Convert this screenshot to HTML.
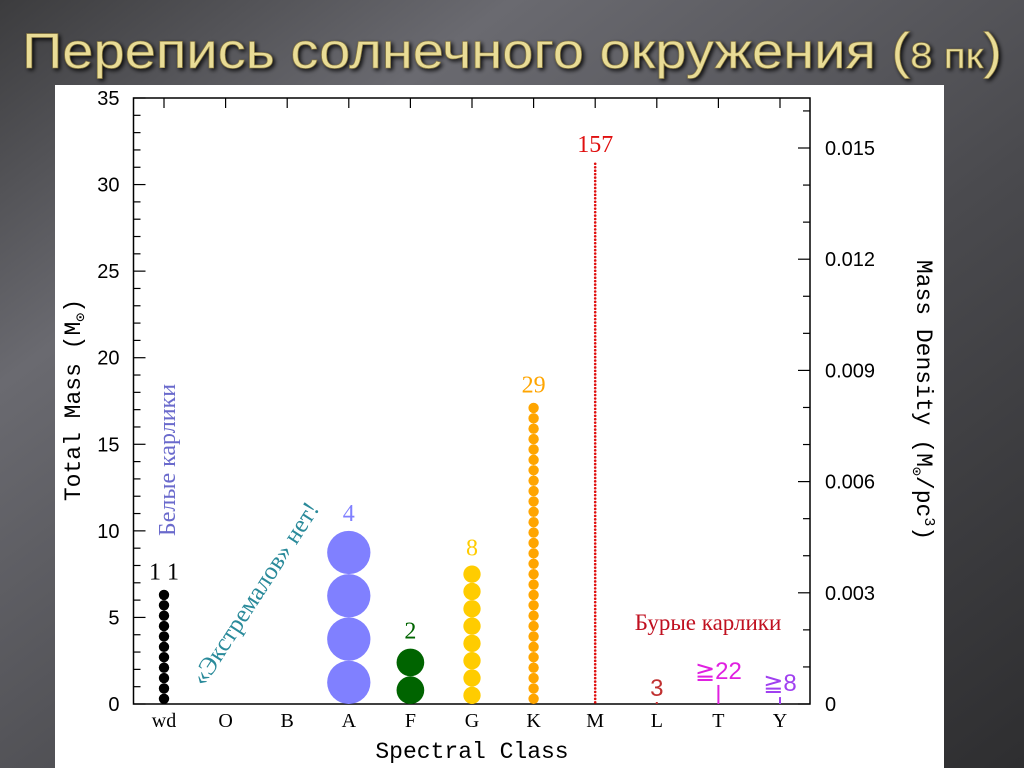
<!DOCTYPE html>
<html><head><meta charset="utf-8"><style>
html,body{margin:0;padding:0;width:1024px;height:768px;overflow:hidden;background:#444}
svg{display:block}
</style></head><body>
<svg id="chart" width="1024" height="768" viewBox="0 0 1024 768" xmlns="http://www.w3.org/2000/svg">
<defs>
<linearGradient id="bg" x1="0" y1="0" x2="1" y2="1">
<stop offset="0" stop-color="#3c3c3e"/><stop offset="0.25" stop-color="#6a6a70"/><stop offset="0.6" stop-color="#4a4a4e"/><stop offset="1" stop-color="#2e2e30"/>
</linearGradient>
<filter id="glow" x="-5%" y="-30%" width="110%" height="160%"><feGaussianBlur in="SourceAlpha" stdDeviation="2"/><feOffset dx="2" dy="2"/><feComponentTransfer><feFuncA type="linear" slope="0.9"/></feComponentTransfer><feMerge><feMergeNode/><feMergeNode in="SourceGraphic"/></feMerge></filter>
</defs>
<rect width="1024" height="768" fill="url(#bg)"/>
<text x="22" y="68" font-family="'Liberation Sans Narrow','Liberation Sans',sans-serif" font-size="50" fill="#e9dc96" stroke="#8a7a40" stroke-width="0.6" filter="url(#glow)" textLength="980" lengthAdjust="spacingAndGlyphs">Перепись солнечного окружения (<tspan font-size="36">8 пк</tspan>)</text>
<rect x="55" y="85" width="889" height="683" fill="#fff"/>
<g id="plot"></g>
</svg>
<script>
const categories = ['wd','O','B','A','F','G','K','M','L','T','Y'];
const counts = [11,0,0,4,2,8,29,157,3,22,8];
const countLabels = ['1 1','','','4','2','8','29','157','3','≧22','≧8'];
const totalMass = [6.6,0,0,10.0,3.2,8.0,17.4,31.3,0.1,1.1,0.4];
const drawAsLine = [false,false,false,false,false,false,false,false,true,true,true];
const colors = ['#000','#000','#000','#8080ff','#006400','#ffcc00','#ffa500','#e01010','#c03030','#e020e0','#a040f0'];
const leftTicks = [0,5,10,15,20,25,30,35];
const rightTicks = [0,0.003,0.006,0.009,0.012,0.015];
const rightTickLabels = ['0','0.003','0.006','0.009','0.012','0.015'];

const NS='http://www.w3.org/2000/svg';
const g=document.getElementById('plot');
const L=133.5,R=810,T=98,B=704;
const x0=164,dx=61.6;
const xs=i=>x0+i*dx;
const ym=v=>B-(B-T)*v/35;
const yd=v=>B-v*(111.2/0.003);
function el(tag,attrs,parent){const e=document.createElementNS(NS,tag);for(const k in attrs)e.setAttribute(k,attrs[k]);(parent||g).appendChild(e);return e;}
function txt(s,attrs){const e=el('text',attrs);e.textContent=s;return e;}

const frame=el('rect',{x:L,y:T,width:R-L,height:B-T,fill:'none',stroke:'#000','stroke-width':1.5});



for(let v=0;v<=35;v++){
  const major=v%5===0;
  const t=el('line',{x1:L,x2:L+(major?12:7),y1:ym(v),y2:ym(v),stroke:'#000','stroke-width':1.2});
  
  
}
leftTicks.forEach(v=>{
  const t=txt(String(v),{x:L-14,y:ym(v)+7,'text-anchor':'end','font-family':'Liberation Sans, sans-serif','font-size':20,fill:'#000'});
  
  
});
for(let k=0;k<=16;k++){
  const v=k*0.001;const y=yd(v);if(y<T)break;
  const major=k%3===0;
  const t=el('line',{x1:R,x2:R-(major?12:7),y1:y,y2:y,stroke:'#000','stroke-width':1.2});
  
  
}
rightTicks.forEach((v,i)=>{
  const t=txt(rightTickLabels[i],{x:R+15,y:yd(v)+7,'font-family':'Liberation Sans, sans-serif','font-size':20,fill:'#000'});
  
  
});
categories.forEach((c,i)=>{
  const x=xs(i);
  const a=el('line',{x1:x,x2:x,y1:T,y2:T+10,stroke:'#000','stroke-width':1.2});
  
  
  const b=txt(c,{x:x,y:B+23,'text-anchor':'middle','font-family':'Liberation Serif, serif','font-size':20,fill:'#000'});
  
  
});
categories.forEach((c,i)=>{
  const n=counts[i];if(!n)return;
  const x=xs(i),col=colors[i];
  const top=ym(totalMass[i]);
  if(drawAsLine[i]){
    const ln=el('line',{x1:x,x2:x,y1:B,y2:Math.min(top,B-2),stroke:col,'stroke-width':2});
    
    
  }else{
    const d=(B-top)/n;
    for(let k=0;k<n;k++){
      const cy=B-d*(k+0.5);
      const r=n>100?1.3:d/2;
      const dot=el('circle',{cx:x,cy:cy,r:r,fill:col});
      
      
    }
  }
  const lblY=drawAsLine[i]?Math.min(top,B-2)-6:top-10;
  const lbl=txt(countLabels[i],{x:x,y:lblY,'text-anchor':'middle','font-family':drawAsLine[i]?'Liberation Sans, sans-serif':'Liberation Serif, serif','font-size':24,fill:col});
  
  
});
let a;
a=txt('Белые карлики',{transform:'translate(175,460) rotate(-90)','text-anchor':'middle','font-family':'Liberation Serif, serif','font-size':24,fill:'#6a6acc'});


a=txt('«Экстремалов» нет!',{transform:'translate(262,598) rotate(-57)','text-anchor':'middle','font-family':'Liberation Serif, serif','font-size':25,fill:'#2a8a9a'});


a=txt('Бурые карлики',{x:708,y:630,'text-anchor':'middle','font-family':'Liberation Serif, serif','font-size':23,fill:'#c01020'});


a=txt('Spectral Class',{x:472,y:758,'text-anchor':'middle','font-family':'Liberation Mono, monospace','font-size':23,fill:'#000'});


a=txt('',{transform:'translate(80,400) rotate(-90)','text-anchor':'middle','font-family':'Liberation Mono, monospace','font-size':23,fill:'#000'});
a.innerHTML='Total Mass (M<tspan font-size="15" dy="5">⊙</tspan><tspan dy="-5">)</tspan>';


a=txt('',{transform:'translate(917,400) rotate(90)','text-anchor':'middle','font-family':'Liberation Mono, monospace','font-size':23,fill:'#000'});
a.innerHTML='Mass Density (M<tspan font-size="15" dy="5">⊙</tspan><tspan dy="-5">/pc</tspan><tspan font-size="15" dy="-8">3</tspan><tspan dy="8">)</tspan>';


</script>
</body></html>
